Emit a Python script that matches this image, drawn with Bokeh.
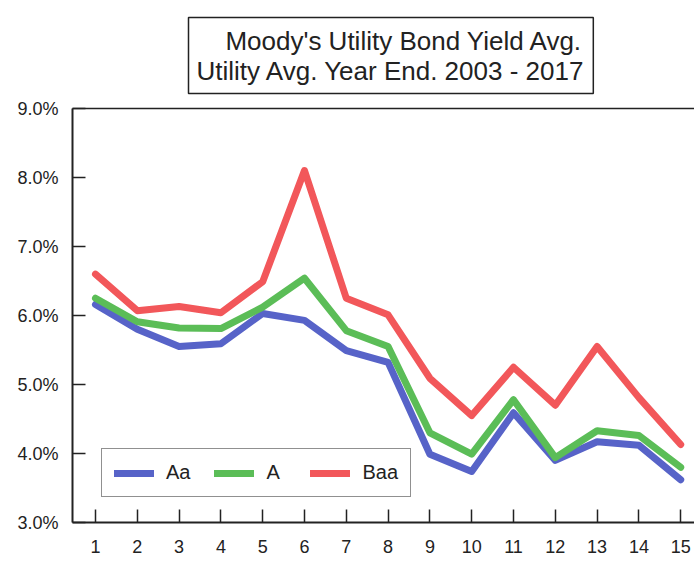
from bokeh.plotting import figure
from bokeh.models import FixedTicker, PrintfTickFormatter, LinearAxis, Title, Legend, Range1d
from bokeh.embed import file_html
from bokeh.resources import INLINE

years = list(range(1, 16))
aa = [6.16, 5.80, 5.55, 5.59, 6.03, 5.93, 5.49, 5.32, 3.99, 3.74, 4.59, 3.90, 4.17, 4.12, 3.62]
a = [6.25, 5.91, 5.82, 5.81, 6.12, 6.54, 5.78, 5.55, 4.30, 3.99, 4.78, 3.94, 4.33, 4.26, 3.80]
baa = [6.60, 6.07, 6.13, 6.04, 6.49, 8.10, 6.25, 6.01, 5.09, 4.55, 5.25, 4.70, 5.55, 4.81, 4.13]
y_ticks = [3, 4, 5, 6, 7, 8, 9]
title_lines = ["\u00a0\u00a0\u00a0\u00a0Moody's Utility Bond Yield Avg.", "Utility Avg. Year End. 2003 - 2017"]

FONT = "Liberation Sans"

p = figure(frame_width=622, frame_height=414, min_border_left=72, min_border_right=0,
           min_border_top=108, min_border_bottom=31,
           x_range=Range1d(0.45, 15.33), y_range=Range1d(3, 9),
           output_backend="svg", toolbar_location=None)
p.outline_line_color = None
p.grid.visible = False

for ax in (p.xaxis[0], p.yaxis[0]):
    ax.axis_line_width = 2
    ax.axis_line_color = "#222222"
    ax.major_tick_line_color = "#222222"
    ax.major_tick_line_width = 1.5
    ax.major_tick_out = 0
    ax.minor_tick_line_color = None
    ax.major_label_text_font = FONT
    ax.major_label_text_font_size = "18px"
    ax.major_label_text_color = "#222222"

p.xaxis.ticker = FixedTicker(ticks=years)
p.xaxis.major_tick_in = 13
p.xaxis.major_label_standoff = 17
p.yaxis.ticker = FixedTicker(ticks=y_ticks)
p.yaxis.formatter = PrintfTickFormatter(format="%.1f%%")
p.yaxis.major_tick_in = 13
p.yaxis.major_label_standoff = 14

top = LinearAxis(ticker=FixedTicker(ticks=[]), axis_line_width=1.5, axis_line_color="#222222",
                 major_tick_line_color=None, minor_tick_line_color=None)
p.add_layout(top, "above")

r_aa = p.line(years, aa, line_color="#5763c8", line_width=7, line_join="round", line_cap="round")
r_a = p.line(years, a, line_color="#5bbd57", line_width=7, line_join="round", line_cap="round")
r_baa = p.line(years, baa, line_color="#f2575a", line_width=7, line_join="round", line_cap="round")

legend = Legend(items=[("Aa", [r_aa]), ("A", [r_a]), ("Baa", [r_baa])],
                orientation="horizontal", location=(29, 25),
                border_line_color="#222222", border_line_width=1.5,
                label_text_font=FONT, label_text_font_size="20px", label_text_color="#222222",
                glyph_width=40, glyph_height=20, label_standoff=12, spacing=24,
                padding=12, margin=0, background_fill_alpha=1)
p.add_layout(legend, "center")

title = Title(text="\n".join(title_lines), align="left", offset=116,
              text_font=FONT, text_font_size="26px", text_font_style="normal",
              text_color="#222222", text_line_height=1.0,
              border_line_color="#222222", border_line_width=1.5,
              background_fill_color="white", padding=8, standoff=30)
p.add_layout(title, "above")

open("out.html", "w").write(file_html(p, INLINE))
